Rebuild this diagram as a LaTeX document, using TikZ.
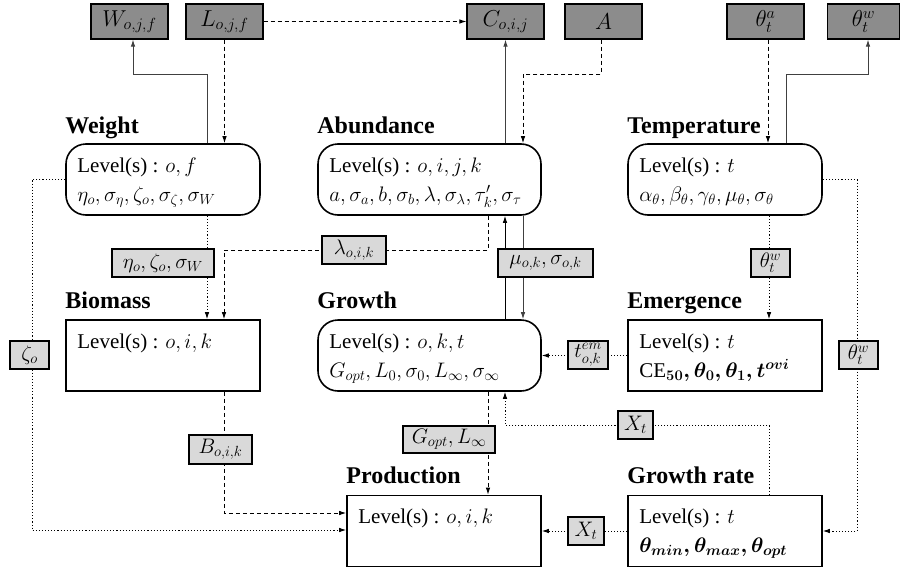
\RequirePackage{fix-cm}
\documentclass[tikz,border=0pt]{standalone}
\usepackage{amsmath}
\usepackage{fontspec}
\setmainfont{Liberation Serif}
\usetikzlibrary{arrows.meta}
\newcommand{\lvl}{Level(s) :}
\tikzset{
  mainbox/.style={draw, line width=1.6pt, minimum width=194pt, minimum height=71pt, inner sep=0pt},
  roundbox/.style={mainbox, rounded corners=20pt},
  obsbox/.style={draw, line width=1.2pt, fill=black!45, minimum width=77pt, minimum height=35pt, inner sep=0pt, font=\fontsize{23}{27}\selectfont},
  labelbox/.style={draw, line width=1.2pt, fill=black!15, minimum height=28pt, inner sep=0pt, font=\fontsize{21}{25}\selectfont},
  titletext/.style={anchor=base west, inner sep=0pt, font=\fontsize{24}{28}\selectfont\bfseries},
  boxtext/.style={anchor=base west, inner sep=0pt, font=\fontsize{21}{25}\selectfont},
  tipc/.tip={Latex[length=7pt,width=4.5pt]},
  conn/.style={line width=0.9pt, -tipc},
  solidc/.style={conn, draw=black!75},
  dashc/.style={conn, dash pattern=on 4pt off 3pt},
  dotc/.style={conn, dash pattern=on 1.1pt off 2pt},
}
\begin{document}
\begin{tikzpicture}[x=1pt,y=-1pt]
\useasboundingbox (0,0) rectangle (901,570);
% helper coordinates
\coordinate (x32) at (32,0);
\coordinate (x133) at (133,0);
\coordinate (x207) at (207,0);
\coordinate (x224) at (224,0);
\coordinate (x488) at (488,0);
\coordinate (x505) at (505,0);
\coordinate (x523) at (523,0);
\coordinate (x601) at (601,0);
\coordinate (x768) at (768,0);
\coordinate (x769) at (769,0);
\coordinate (x786) at (786,0);
\coordinate (x857) at (857,0);
\coordinate (x868) at (868,0);
\coordinate (y74) at (0,74);
\coordinate (y250) at (0,250);
\coordinate (y425) at (0,425);
\coordinate (y513) at (0,513);
\coordinate (y530) at (0,530);

% main boxes
\node[roundbox] (weight) at (163,179.5) {};
\node[roundbox, minimum width=223pt] (abund) at (429.5,179.5) {};
\node[roundbox] (temp) at (725,179.5) {};
\node[mainbox] (biomass) at (163,355.5) {};
\node[roundbox, minimum width=223pt] (growth) at (429.5,355.5) {};
\node[mainbox] (emerg) at (725,355.5) {};
\node[mainbox] (prod) at (444,531) {};
\node[mainbox] (grate) at (725,531) {};

% titles
\node[titletext] (tWeight) at ([yshift=10pt]weight.north west) {Weight};
\node[titletext] (tAbund) at ([yshift=10pt]abund.north west) {Abundance};
\node[titletext] (tTemp) at ([yshift=10pt]temp.north west) {Temperature};
\node[titletext] (tBiom) at ([yshift=11pt]biomass.north west) {Biomass};
\node[titletext] (tGrowth) at ([yshift=11pt]growth.north west) {Growth};
\node[titletext] (tEmerg) at ([yshift=11pt]emerg.north west) {Emergence};
\node[titletext] (tProd) at ([yshift=11pt]prod.north west) {Production};
\node[titletext] (tGrate) at ([yshift=11pt]grate.north west) {Growth rate};

% box contents
\node[boxtext] (wa) at ([xshift=12pt,yshift=-29pt]weight.north west) {\lvl{} $o, f$};
\node[boxtext] (wb) at ([xshift=12pt,yshift=-58pt]weight.north west) {$\eta_o, \sigma_\eta, \zeta_o, \sigma_\zeta, \sigma_W$};
\node[boxtext] (aa) at ([xshift=12pt,yshift=-29pt]abund.north west) {\lvl{} $o, i, j, k$};
\node[boxtext] (ab) at ([xshift=12pt,yshift=-58pt]abund.north west) {$a, \sigma_a, b, \sigma_b, \lambda, \sigma_\lambda, \tau'_k, \sigma_\tau$};
\node[boxtext] (ta1) at ([xshift=12pt,yshift=-29pt]temp.north west) {\lvl{} $t$};
\node[boxtext] (tb1) at ([xshift=12pt,yshift=-58pt]temp.north west) {$\alpha_\theta, \beta_\theta, \gamma_\theta, \mu_\theta, \sigma_\theta$};
\node[boxtext] (ba) at ([xshift=12pt,yshift=-29pt]biomass.north west) {\lvl{} $o, i, k$};
\node[boxtext] (ga) at ([xshift=12pt,yshift=-29pt]growth.north west) {\lvl{} $o, k, t$};
\node[boxtext] (gb) at ([xshift=12pt,yshift=-58pt]growth.north west) {$G_{opt}, L_0, \sigma_0, L_\infty, \sigma_\infty$};
\node[boxtext] (ea) at ([xshift=12pt,yshift=-29pt]emerg.north west) {\lvl{} $t$};
\node[boxtext] (eb) at ([xshift=12pt,yshift=-58pt]emerg.north west) {CE{\boldmath$_{50}, \theta_0, \theta_1, t^{ovi}$}};
\node[boxtext] (pa) at ([xshift=12pt,yshift=-29pt]prod.north west) {\lvl{} $o, i, k$};
\node[boxtext] (ra) at ([xshift=12pt,yshift=-29pt]grate.north west) {\lvl{} $t$};
\node[boxtext] (rb) at ([xshift=12pt,yshift=-58pt]grate.north west) {{\boldmath$\theta_{min}, \theta_{max}, \theta_{opt}$}};

% observed data boxes
\node[obsbox] (W) at (129.5,21.5) {$W_{o,j,f}$};
\node[obsbox] (L) at (224.5,21.5) {$L_{o,j,f}$};
\node[obsbox] (C) at (505.5,21.5) {$C_{o,i,j}$};
\node[obsbox] (A) at (603.5,21.5) {$A$};
\node[obsbox] (ta) at (765.5,21.5) {$\theta^a_t$};
\node[obsbox, minimum width=72pt] (tw) at (863.5,21.5) {$\theta^w_t$};

% connectors
\draw[solidc] (weight.north -| x207) |- (y74 -| x133) -- (W.south -| x133);
\draw[dashc] (L.south) -- (weight.north -| L.south);
\draw[dashc] (L.east) -- (C.west);
\draw[solidc] (abund.north -| C.south) -- (C.south);
\draw[dashc] (A.south -| x601) |- (y74 -| x523) -- (abund.north -| x523);
\draw[dashc] (ta.south -| x768) -- (temp.north -| x768);
\draw[solidc] (temp.north -| x786) |- (y74 -| x868) -- (tw.south -| x868);
\draw[dotc] (weight.south -| x207) -- (biomass.north -| x207);
\draw[dashc] (abund.south -| x488) |- (y250 -| x224) -- (biomass.north -| x224);
\draw[solidc, draw=black] (growth.north -| x505) -- (abund.south -| x505);
\draw[solidc] (abund.south -| x523) -- (growth.north -| x523);
\draw[dotc] (temp.south -| x769) -- (emerg.north -| x769);
\draw[dotc] (temp.east) -| (x857 |- grate.east) -- (grate.east);
\draw[dotc] (weight.west) -| (x32 |- y530) -- (prod.west |- y530);
\draw[dashc] (biomass.south -| x224) |- (prod.west |- y513);
\draw[dotc] (emerg.west) -- (growth.east);
\draw[dashc] (growth.south -| x488) -- (prod.north -| x488);
\draw[dotc] (grate.north -| x769) |- (y425 -| x505) -- (growth.south -| x505);
\draw[dotc] (grate.west) -- (prod.east);

% labels on connectors
\node[labelbox, minimum width=102pt] (lEta) at (163,263) {$\eta_o, \zeta_o, \sigma_W$};
\node[labelbox, minimum width=64pt] (lLam) at (354,250) {$\lambda_{o,i,k}$};
\node[labelbox, minimum width=95pt] (lMu) at (545.5,263) {$\mu_{o,k}, \sigma_{o,k}$};
\node[labelbox, minimum width=39pt] (lTw1) at (770.5,263) {$\theta^w_t$};
\node[labelbox, minimum width=39pt] (lZeta) at (29.5,355) {$\zeta_o$};
\node[labelbox, minimum width=40pt] (lTem) at (588,355) {$t^{em}_{o,k}$};
\node[labelbox, minimum width=39pt] (lTw2) at (858.5,355) {$\theta^w_t$};
\node[labelbox, minimum width=35pt] (lX1) at (635.5,425) {$X_t$};
\node[labelbox, minimum width=63pt, minimum height=29pt] (lB) at (220.5,449.5) {$B_{o,i,k}$};
\node[labelbox, minimum width=92pt, minimum height=27pt] (lG) at (449,439.5) {$G_{opt}, L_\infty$};
\node[labelbox, minimum width=36pt] (lX2) at (586,531) {$X_t$};
\end{tikzpicture}
\end{document}
